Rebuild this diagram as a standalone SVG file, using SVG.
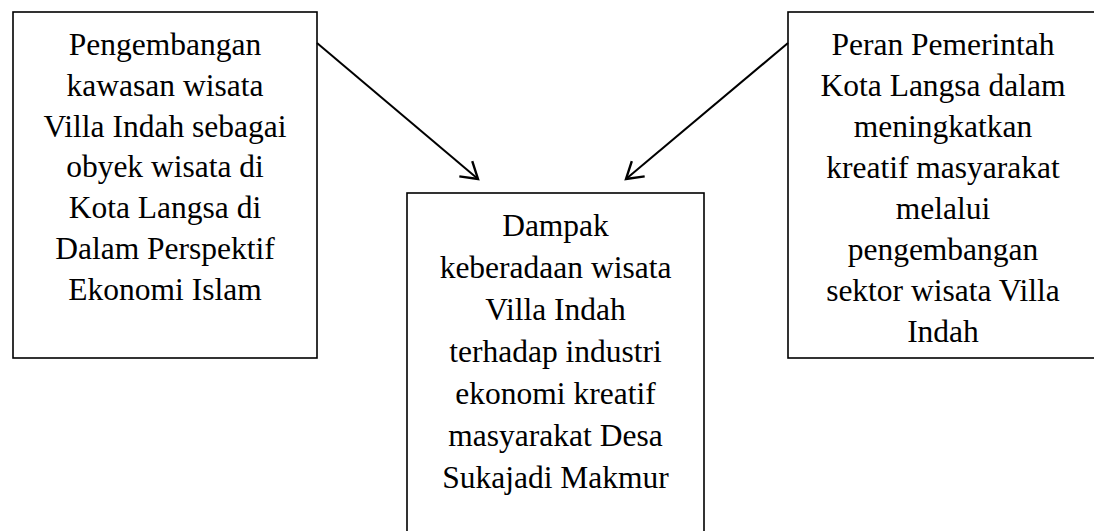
<svg xmlns="http://www.w3.org/2000/svg" width="1094" height="531" viewBox="0 0 1094 531">
<style>
.box{fill:#fff;stroke:#000;stroke-width:1.6}
.t{font-family:"Liberation Serif","Times New Roman",serif;font-size:31.5px;fill:#000;text-anchor:middle}
.c{fill:none;stroke:#000;stroke-width:2}
</style>
<defs>
<marker id="arr" viewBox="-20 -12 24 24" refX="0" refY="0" markerWidth="24" markerHeight="24" markerUnits="userSpaceOnUse" orient="auto">
<path d="M-16,-10 L0,0 L-16,10" fill="none" stroke="#000" stroke-width="2.4"/>
</marker>
</defs>
<rect width="1094" height="531" fill="#fff"/>
<g id="node-left">
<rect class="box" x="13" y="12" width="304" height="346"/>
<text class="t" x="165" y="55"><tspan x="165">Pengembangan</tspan><tspan x="165" dy="40.8">kawasan wisata</tspan><tspan x="165" dy="40.8">Villa Indah sebagai</tspan><tspan x="165" dy="40.8">obyek wisata di</tspan><tspan x="165" dy="40.8">Kota Langsa di</tspan><tspan x="165" dy="40.8">Dalam Perspektif</tspan><tspan x="165" dy="40.8">Ekonomi Islam</tspan></text>
</g>
<g id="node-middle">
<rect class="box" x="407" y="193" width="297" height="350"/>
<text class="t" x="555.5" y="236"><tspan x="555.5">Dampak</tspan><tspan x="555.5" dy="42">keberadaan wisata</tspan><tspan x="555.5" dy="42">Villa Indah</tspan><tspan x="555.5" dy="42">terhadap industri</tspan><tspan x="555.5" dy="42">ekonomi kreatif</tspan><tspan x="555.5" dy="42">masyarakat Desa</tspan><tspan x="555.5" dy="42">Sukajadi Makmur</tspan></text>
</g>
<g id="node-right">
<rect class="box" x="788" y="12" width="312" height="346"/>
<text class="t" x="943" y="55"><tspan x="943">Peran Pemerintah</tspan><tspan x="943" dy="41">Kota Langsa dalam</tspan><tspan x="943" dy="41">meningkatkan</tspan><tspan x="943" dy="41">kreatif masyarakat</tspan><tspan x="943" dy="41">melalui</tspan><tspan x="943" dy="41">pengembangan</tspan><tspan x="943" dy="41">sektor wisata Villa</tspan><tspan x="943" dy="41">Indah</tspan></text>
</g>
<g id="connectors">
<path class="c" d="M317,43 L478,179" marker-end="url(#arr)"/>
<path class="c" d="M788,43 L626,179" marker-end="url(#arr)"/>
</g>
</svg>
